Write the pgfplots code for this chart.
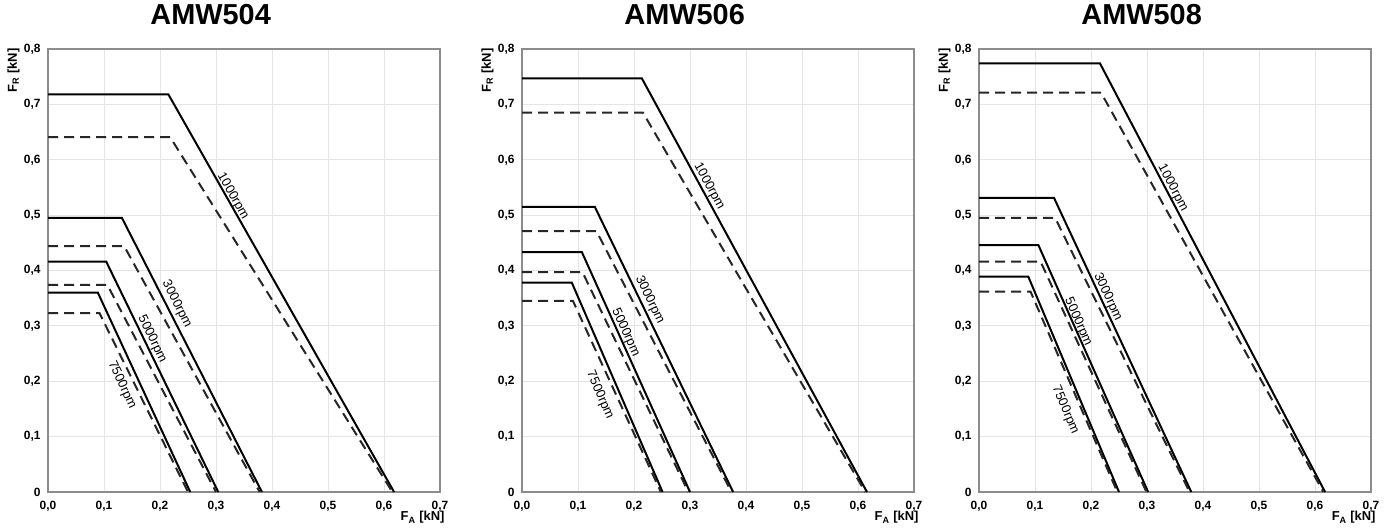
\documentclass[border=0pt]{standalone}
\usepackage{fontspec}
\setmainfont{Liberation Sans}
\usepackage{pgfplots}
\pgfplotsset{compat=1.18}

\pgfplotsset{
  amw/.style={
    scale only axis, width=392bp, height=443bp, anchor=south west,
    xmin=0, xmax=0.7, ymin=0, ymax=0.8, clip=false,
    xtick={0,0.1,0.2,0.3,0.4,0.5,0.6,0.7},
    ytick={0,0.1,0.2,0.3,0.4,0.5,0.6,0.7,0.8},
    xticklabels={{0,0},{0,1},{0,2},{0,3},{0,4},{0,5},{0,6},{0,7}},
    yticklabels={0,{0,1},{0,2},{0,3},{0,4},{0,5},{0,6},{0,7},{0,8}},
    grid=major, major grid style={draw=gray!20, line width=0.8bp},
    major tick length=0pt,
    axis line style={draw=gray!90, line width=2bp},
    ticklabel style={font=\fontsize{12}{14}\selectfont\bfseries},
    yticklabel style={xshift=-4bp},
    xticklabel style={yshift=-6bp},
  },
}
\tikzset{
  fsolid/.style={black, line width=2bp, mark=none},
  fdash/.style={black!85, line width=2bp, dash pattern=on 10bp off 6bp, mark=none},
  rpm/.style={font=\fontsize{13}{15}\selectfont, inner sep=0pt},
}
\newcommand\decor[1]{%
  \coordinate (tl) at (rel axis cs:0,1);
  \coordinate (br) at (rel axis cs:1,0);
  \node[font=\fontsize{29}{33}\selectfont\bfseries] at ([yshift=34bp]rel axis cs:0.415,1) {#1};
  \node[rotate=90, anchor=south east, font=\fontsize{13}{15}\selectfont\bfseries] at ([xshift=-25bp,yshift=4bp]tl) {F\textsubscript{R} [kN]};
  \node[anchor=north east, font=\fontsize{13}{15}\selectfont\bfseries] at ([xshift=8bp,yshift=-16bp]br) {F\textsubscript{A} [kN]};
}

\begin{document}
\begin{tikzpicture}
\useasboundingbox (0,0) rectangle (1394bp,532bp);

% AMW504
\begin{axis}[amw, at={(48bp,40bp)}]
\addplot[fsolid] coordinates {(0,0.718) (0.215,0.718) (0.618,0)};
\addplot[fdash]  coordinates {(0,0.641) (0.218,0.641) (0.615,0)};
\addplot[fsolid] coordinates {(0,0.495) (0.132,0.495) (0.382,0)};
\addplot[fdash]  coordinates {(0,0.444) (0.136,0.444) (0.378,0)};
\addplot[fsolid] coordinates {(0,0.416) (0.104,0.416) (0.304,0)};
\addplot[fdash]  coordinates {(0,0.374) (0.106,0.374) (0.300,0)};
\addplot[fsolid] coordinates {(0,0.360) (0.089,0.360) (0.254,0)};
\addplot[fdash]  coordinates {(0,0.323) (0.092,0.323) (0.250,0)};
\node[rpm, rotate=-60.4] at (axis cs:0.330,0.534) {1000rpm};
\node[rpm, rotate=-62.9] at (axis cs:0.230,0.339) {3000rpm};
\node[rpm, rotate=-64.1] at (axis cs:0.186,0.276) {5000rpm};
\node[rpm, rotate=-65.1] at (axis cs:0.132,0.193) {7500rpm};
\decor{AMW504}
\end{axis}

% AMW506
\begin{axis}[amw, at={(522bp,40bp)}]
\addplot[fsolid] coordinates {(0,0.747) (0.214,0.747) (0.616,0)};
\addplot[fdash]  coordinates {(0,0.685) (0.216,0.685) (0.613,0)};
\addplot[fsolid] coordinates {(0,0.515) (0.130,0.515) (0.377,0)};
\addplot[fdash]  coordinates {(0,0.471) (0.133,0.471) (0.374,0)};
\addplot[fsolid] coordinates {(0,0.433) (0.107,0.433) (0.300,0)};
\addplot[fdash]  coordinates {(0,0.397) (0.108,0.397) (0.297,0)};
\addplot[fsolid] coordinates {(0,0.378) (0.089,0.378) (0.251,0)};
\addplot[fdash]  coordinates {(0,0.345) (0.091,0.345) (0.248,0)};
\node[rpm, rotate=-61.5] at (axis cs:0.334,0.552) {1000rpm};
\node[rpm, rotate=-64.1] at (axis cs:0.228,0.347) {3000rpm};
\node[rpm, rotate=-65.8] at (axis cs:0.185,0.288) {5000rpm};
\node[rpm, rotate=-66.6] at (axis cs:0.139,0.175) {7500rpm};
\decor{AMW506}
\end{axis}

% AMW508
\begin{axis}[amw, at={(979bp,40bp)}]
\addplot[fsolid] coordinates {(0,0.774) (0.216,0.774) (0.618,0)};
\addplot[fdash]  coordinates {(0,0.721) (0.218,0.721) (0.615,0)};
\addplot[fsolid] coordinates {(0,0.531) (0.134,0.531) (0.379,0)};
\addplot[fdash]  coordinates {(0,0.495) (0.136,0.495) (0.376,0)};
\addplot[fsolid] coordinates {(0,0.446) (0.106,0.446) (0.302,0)};
\addplot[fdash]  coordinates {(0,0.416) (0.110,0.416) (0.299,0)};
\addplot[fsolid] coordinates {(0,0.389) (0.088,0.389) (0.250,0)};
\addplot[fdash]  coordinates {(0,0.362) (0.092,0.362) (0.247,0)};
\node[rpm, rotate=-62.3] at (axis cs:0.346,0.549) {1000rpm};
\node[rpm, rotate=-65.0] at (axis cs:0.230,0.352) {3000rpm};
\node[rpm, rotate=-66.0] at (axis cs:0.177,0.307) {5000rpm};
\node[rpm, rotate=-67.2] at (axis cs:0.154,0.148) {7500rpm};
\decor{AMW508}
\end{axis}
\end{tikzpicture}
\end{document}
